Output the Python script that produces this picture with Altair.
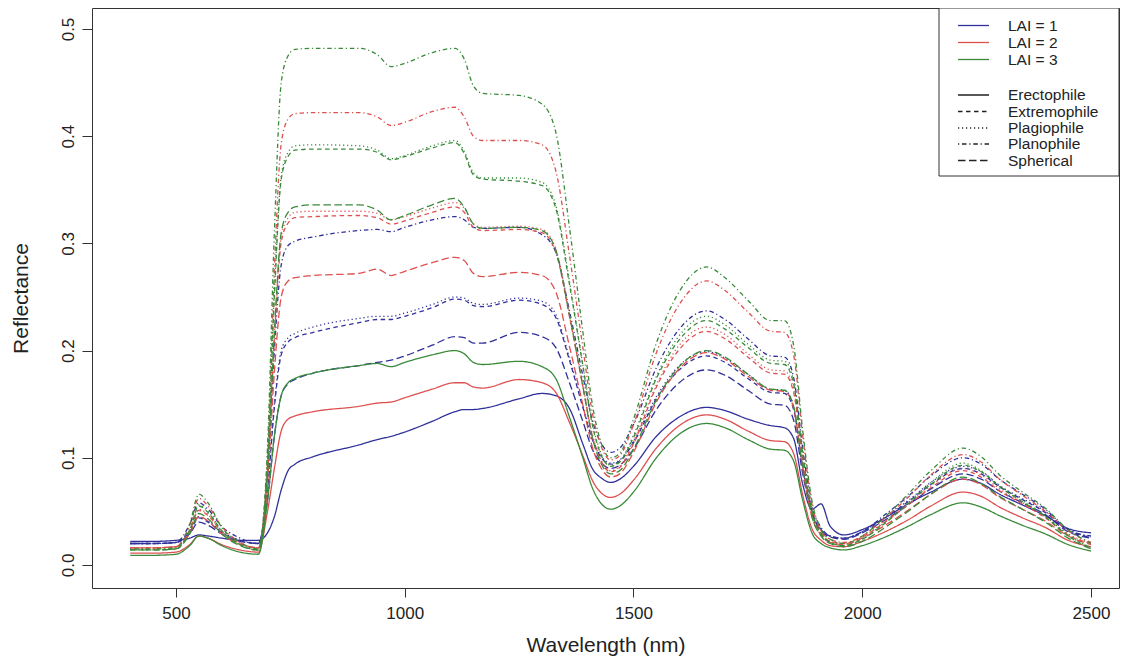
import altair as alt
import pandas as pd

FONT = "Liberation Sans"

# Wavelength grid (nm)
wavelength = [400, 450, 500, 530, 550, 570, 600, 640, 680, 700,
              715, 730, 745, 760, 800, 900, 940, 970, 1000, 1060,
              1110, 1130, 1150, 1170, 1250, 1300, 1330, 1360, 1390, 1410,
              1430, 1450, 1470, 1500, 1550, 1600, 1660, 1700, 1750, 1800,
              1830, 1850, 1870, 1890, 1910, 1930, 1960, 2000, 2050, 2100,
              2150, 2220, 2260, 2300, 2350, 2400, 2450, 2500]

planophile_lai3 = [.015, .015, .016, .038, .066, .058, .035, .021, .015, .11,
                   .31, .45, .475, .481, .482, .482, .476, .465, .468, .478,
                   .482, .472, .447, .440, .438, .430, .404, .315, .215, .15,
                   .113, .100, .104, .136, .207, .255, .278, .268, .247, .228,
                   .228, .205, .125, .06, .033, .024, .02, .027, .045, .066,
                   .088, .109, .101, .084, .068, .053, .033, .02]
planophile_lai2 = [.016, .016, .017, .037, .062, .055, .036, .021, .016, .10,
                   .275, .393, .416, .421, .422, .422, .418, .410, .413, .423,
                   .427, .418, .400, .396, .396, .392, .368, .289, .201, .142,
                   .11, .098, .102, .131, .198, .243, .265, .256, .236, .218,
                   .217, .196, .12, .057, .032, .024, .021, .027, .044, .063,
                   .084, .103, .096, .08, .065, .05, .032, .021]
planophile_lai1 = [.020, .020, .021, .038, .058, .052, .036, .025, .02, .08,
                   .2, .28, .298, .302, .306, .312, .313, .311, .315, .322,
                   .325, .322, .315, .314, .315, .308, .292, .237, .175, .135,
                   .113, .105, .109, .131, .184, .220, .237, .229, .211, .195,
                   .194, .175, .108, .055, .035, .027, .025, .031, .047, .064,
                   .083, .100, .094, .08, .066, .052, .033, .027]
plagiophile_lai3 = [.014, .014, .015, .033, .056, .050, .032, .019, .014, .095,
                    .255, .363, .385, .391, .392, .391, .387, .379, .382, .391,
                    .396, .386, .366, .361, .361, .357, .336, .265, .185, .133,
                    .103, .093, .097, .121, .176, .214, .232, .224, .206, .191,
                    .190, .172, .105, .05, .029, .021, .018, .024, .04, .058,
                    .077, .095, .088, .074, .06, .046, .028, .016]
extremophile_lai3 = [.014, .014, .015, .032, .055, .049, .032, .019, .014, .094,
                     .25, .36, .381, .387, .388, .388, .385, .378, .381, .389,
                     .394, .384, .364, .360, .358, .354, .333, .262, .184, .131,
                     .102, .092, .096, .119, .174, .210, .228, .220, .203, .188,
                     .187, .169, .103, .05, .029, .021, .018, .024, .039, .057,
                     .075, .093, .087, .073, .059, .045, .027, .016]
plagiophile_lai2 = [.016, .016, .017, .032, .052, .047, .031, .02, .016, .085,
                    .215, .306, .324, .329, .330, .330, .328, .322, .325, .333,
                    .338, .333, .318, .315, .316, .313, .295, .234, .167, .122,
                    .097, .088, .092, .115, .168, .205, .222, .215, .197, .182,
                    .181, .164, .1, .049, .03, .022, .02, .026, .041, .057,
                    .074, .090, .084, .071, .058, .045, .029, .020]
extremophile_lai2 = [.016, .016, .017, .032, .051, .046, .031, .02, .016, .084,
                     .21, .301, .319, .324, .325, .326, .324, .318, .321, .329,
                     .334, .329, .315, .312, .313, .310, .292, .232, .165, .12,
                     .096, .087, .091, .113, .166, .201, .218, .211, .194, .179,
                     .178, .161, .098, .048, .03, .022, .02, .026, .04, .056,
                     .072, .088, .082, .069, .057, .044, .028, .020]
spherical_lai3 = [.014, .014, .015, .029, .048, .043, .029, .018, .014, .086,
                  .217, .31, .329, .334, .336, .336, .331, .322, .326, .336,
                  .342, .334, .318, .314, .315, .312, .294, .233, .165, .119,
                  .094, .085, .088, .108, .154, .185, .200, .194, .178, .164,
                  .163, .148, .09, .045, .027, .02, .017, .022, .035, .05,
                  .066, .082, .076, .064, .052, .04, .025, .015]
spherical_lai2 = [.016, .016, .017, .029, .045, .041, .029, .019, .016, .075,
                  .18, .25, .265, .268, .270, .272, .276, .270, .274, .282,
                  .287, .284, .272, .269, .273, .270, .255, .204, .148, .11,
                  .09, .082, .085, .105, .152, .183, .198, .192, .176, .163,
                  .162, .146, .09, .045, .028, .021, .019, .025, .037, .051,
                  .066, .080, .075, .063, .052, .041, .027, .019]
plagiophile_lai1 = [.020, .020, .021, .032, .045, .041, .031, .023, .02, .07,
                    .15, .2, .212, .216, .222, .230, .232, .232, .235, .243,
                    .250, .249, .244, .243, .249, .246, .234, .193, .148, .118,
                    .101, .095, .098, .116, .157, .186, .199, .193, .178, .164,
                    .163, .148, .092, .05, .033, .027, .025, .031, .045, .06,
                    .077, .092, .087, .074, .062, .05, .033, .026]
extremophile_lai1 = [.020, .020, .021, .031, .044, .040, .030, .023, .02, .069,
                     .147, .196, .208, .212, .217, .226, .229, .229, .232, .240,
                     .248, .247, .242, .241, .247, .243, .231, .191, .146, .117,
                     .1, .094, .097, .114, .155, .182, .195, .189, .174, .161,
                     .16, .145, .09, .05, .033, .027, .025, .031, .044, .059,
                     .075, .090, .085, .073, .061, .049, .032, .026]
spherical_lai1 = [.020, .020, .021, .029, .040, .037, .029, .022, .02, .06,
                  .12, .158, .169, .173, .179, .186, .189, .191, .195, .205,
                  .213, .212, .207, .207, .217, .213, .203, .17, .133, .108,
                  .095, .090, .093, .108, .145, .17, .182, .177, .163, .15,
                  .149, .135, .085, .048, .032, .026, .024, .03, .042, .056,
                  .071, .085, .08, .069, .058, .047, .031, .025]
erectophile_lai3 = [.009, .009, .01, .018, .027, .025, .018, .012, .01, .06,
                    .12, .158, .17, .174, .179, .186, .188, .185, .189, .196,
                    .200, .197, .189, .187, .190, .185, .174, .138, .099, .072,
                    .057, .052, .055, .068, .1, .122, .132, .128, .117, .108,
                    .107, .097, .06, .03, .02, .016, .014, .018, .026, .036,
                    .047, .058, .054, .046, .037, .029, .019, .013]
erectophile_lai2 = [.011, .011, .012, .019, .027, .025, .019, .014, .012, .05,
                    .09, .125, .136, .139, .143, .148, .151, .152, .156, .164,
                    .170, .170, .166, .165, .173, .170, .161, .133, .101, .079,
                    .067, .063, .066, .079, .109, .13, .140, .136, .125, .116,
                    .115, .104, .065, .034, .023, .018, .017, .022, .031, .042,
                    .055, .068, .064, .054, .044, .035, .023, .017]
erectophile_lai1 = [.022, .022, .023, .025, .028, .027, .025, .023, .023, .03,
                    .045, .07, .088, .094, .101, .112, .117, .120, .124, .134,
                    .143, .145, .145, .146, .155, .160, .158, .146, .112, .09,
                    .081, .077, .08, .092, .12, .138, .147, .144, .136, .13,
                    .128, .118, .075, .052, .057, .036, .028, .033, .044, .057,
                    .068, .080, .076, .066, .056, .046, .034, .030]

lai_labels = ["LAI = 1", "LAI = 2", "LAI = 3"]
lai_colors = ["#30309a", "#dd5050", "#3a8a3a"]
angle_labels = ["Erectophile", "Extremophile", "Plagiophile", "Planophile", "Spherical"]
angle_dashes = [[1, 0], [4.5, 3.5], [1.2, 2.8], [1.2, 2.8, 4.5, 2.8], [7.5, 3.5]]

x_ticks = [500, 1000, 1500, 2000, 2500]
y_ticks = [0.0, 0.1, 0.2, 0.3, 0.4, 0.5]

series = [
    ("LAI = 1", "Erectophile", erectophile_lai1),
    ("LAI = 1", "Extremophile", extremophile_lai1),
    ("LAI = 1", "Plagiophile", plagiophile_lai1),
    ("LAI = 1", "Planophile", planophile_lai1),
    ("LAI = 1", "Spherical", spherical_lai1),
    ("LAI = 2", "Erectophile", erectophile_lai2),
    ("LAI = 2", "Extremophile", extremophile_lai2),
    ("LAI = 2", "Plagiophile", plagiophile_lai2),
    ("LAI = 2", "Planophile", planophile_lai2),
    ("LAI = 2", "Spherical", spherical_lai2),
    ("LAI = 3", "Erectophile", erectophile_lai3),
    ("LAI = 3", "Extremophile", extremophile_lai3),
    ("LAI = 3", "Plagiophile", plagiophile_lai3),
    ("LAI = 3", "Planophile", planophile_lai3),
    ("LAI = 3", "Spherical", spherical_lai3),
]

rows = []
for lai, ang, vals in series:
    for w, v in zip(wavelength, vals):
        rows.append({"wl": w, "refl": v, "lai": lai, "angle": ang, "sid": lai + ang})
df = pd.DataFrame(rows)

color_scale = alt.Scale(domain=lai_labels, range=lai_colors)
dash_scale = alt.Scale(domain=angle_labels, range=angle_dashes)

W = 1027
lines = alt.Chart(df).mark_line(strokeWidth=1.3, interpolate="monotone").encode(
    x=alt.X("wl:Q", scale=alt.Scale(domain=[316.4, 2561.2], nice=False, zero=False),
            axis=alt.Axis(values=x_ticks, title="Wavelength (nm)", format="d",
                          tickSize=9, labelPadding=8, labelFontSize=17,
                          titleFontSize=21, titleY=57, titleBaseline="middle")),
    y=alt.Y("refl:Q", scale=alt.Scale(domain=[-0.0215, 0.5196], nice=False, zero=False),
            axis=alt.Axis(values=y_ticks, title="Reflectance", format=".1f",
                          tickSize=10, labelPadding=5, labelFontSize=17,
                          labelAngle=270, labelAlign="center", labelBaseline="bottom",
                          titleFontSize=21, titleX=-71, titleY=290,
                          titleBaseline="middle", titleAngle=270)),
    color=alt.Color("lai:N", scale=color_scale, legend=None),
    strokeDash=alt.StrokeDash("angle:N", scale=dash_scale, legend=None),
    detail="sid:N",
)

# Legend (drawn manually, R-style box at top right)
legend_box = alt.Chart(pd.DataFrame({"k": [0]})).mark_rect(
    fill="white", stroke="#333333", strokeWidth=1
).encode(x=alt.value(W - 180), x2=alt.value(W), y=alt.value(0), y2=alt.value(168))

lai_leg = pd.DataFrame({"lai": lai_labels, "ly": [17.5, 34.5, 51.5]})
ang_leg = pd.DataFrame({"angle": angle_labels, "ly": [87, 103.5, 120, 136, 152.5]})

lai_leg_lines = alt.Chart(lai_leg).mark_rule(strokeWidth=1.3).encode(
    x=alt.value(W - 161), x2=alt.value(W - 130),
    y=alt.Y("ly:Q", scale=None, axis=None),
    color=alt.Color("lai:N", scale=color_scale, legend=None),
)
lai_leg_text = alt.Chart(lai_leg).mark_text(
    align="left", baseline="middle", fontSize=15.5, font=FONT, color="#222222"
).encode(x=alt.value(W - 111), y=alt.Y("ly:Q", scale=None, axis=None), text="lai:N")

ang_leg_lines = alt.Chart(ang_leg).mark_rule(strokeWidth=1.3, color="#222222").encode(
    x=alt.value(W - 161), x2=alt.value(W - 130),
    y=alt.Y("ly:Q", scale=None, axis=None),
    strokeDash=alt.StrokeDash("angle:N", scale=dash_scale, legend=None),
)
ang_leg_text = alt.Chart(ang_leg).mark_text(
    align="left", baseline="middle", fontSize=15.5, font=FONT, color="#222222"
).encode(x=alt.value(W - 111), y=alt.Y("ly:Q", scale=None, axis=None), text="angle:N")

chart = alt.layer(
    lines, legend_box, lai_leg_lines, lai_leg_text, ang_leg_lines, ang_leg_text
).properties(
    width=W, height=580,
    autosize=alt.AutoSizeParams(type="none"),
    padding={"left": 84, "top": 0, "right": 1, "bottom": 70},
).configure_view(
    stroke="#333333", strokeWidth=1
).configure_axis(
    grid=False, domain=False, tickColor="#333333", tickWidth=1,
    labelFont=FONT, titleFont=FONT, labelColor="#222222", titleColor="#222222",
    titleFontWeight="normal"
)

chart.save("out.html", embed_options={"renderer": "svg", "actions": False})
